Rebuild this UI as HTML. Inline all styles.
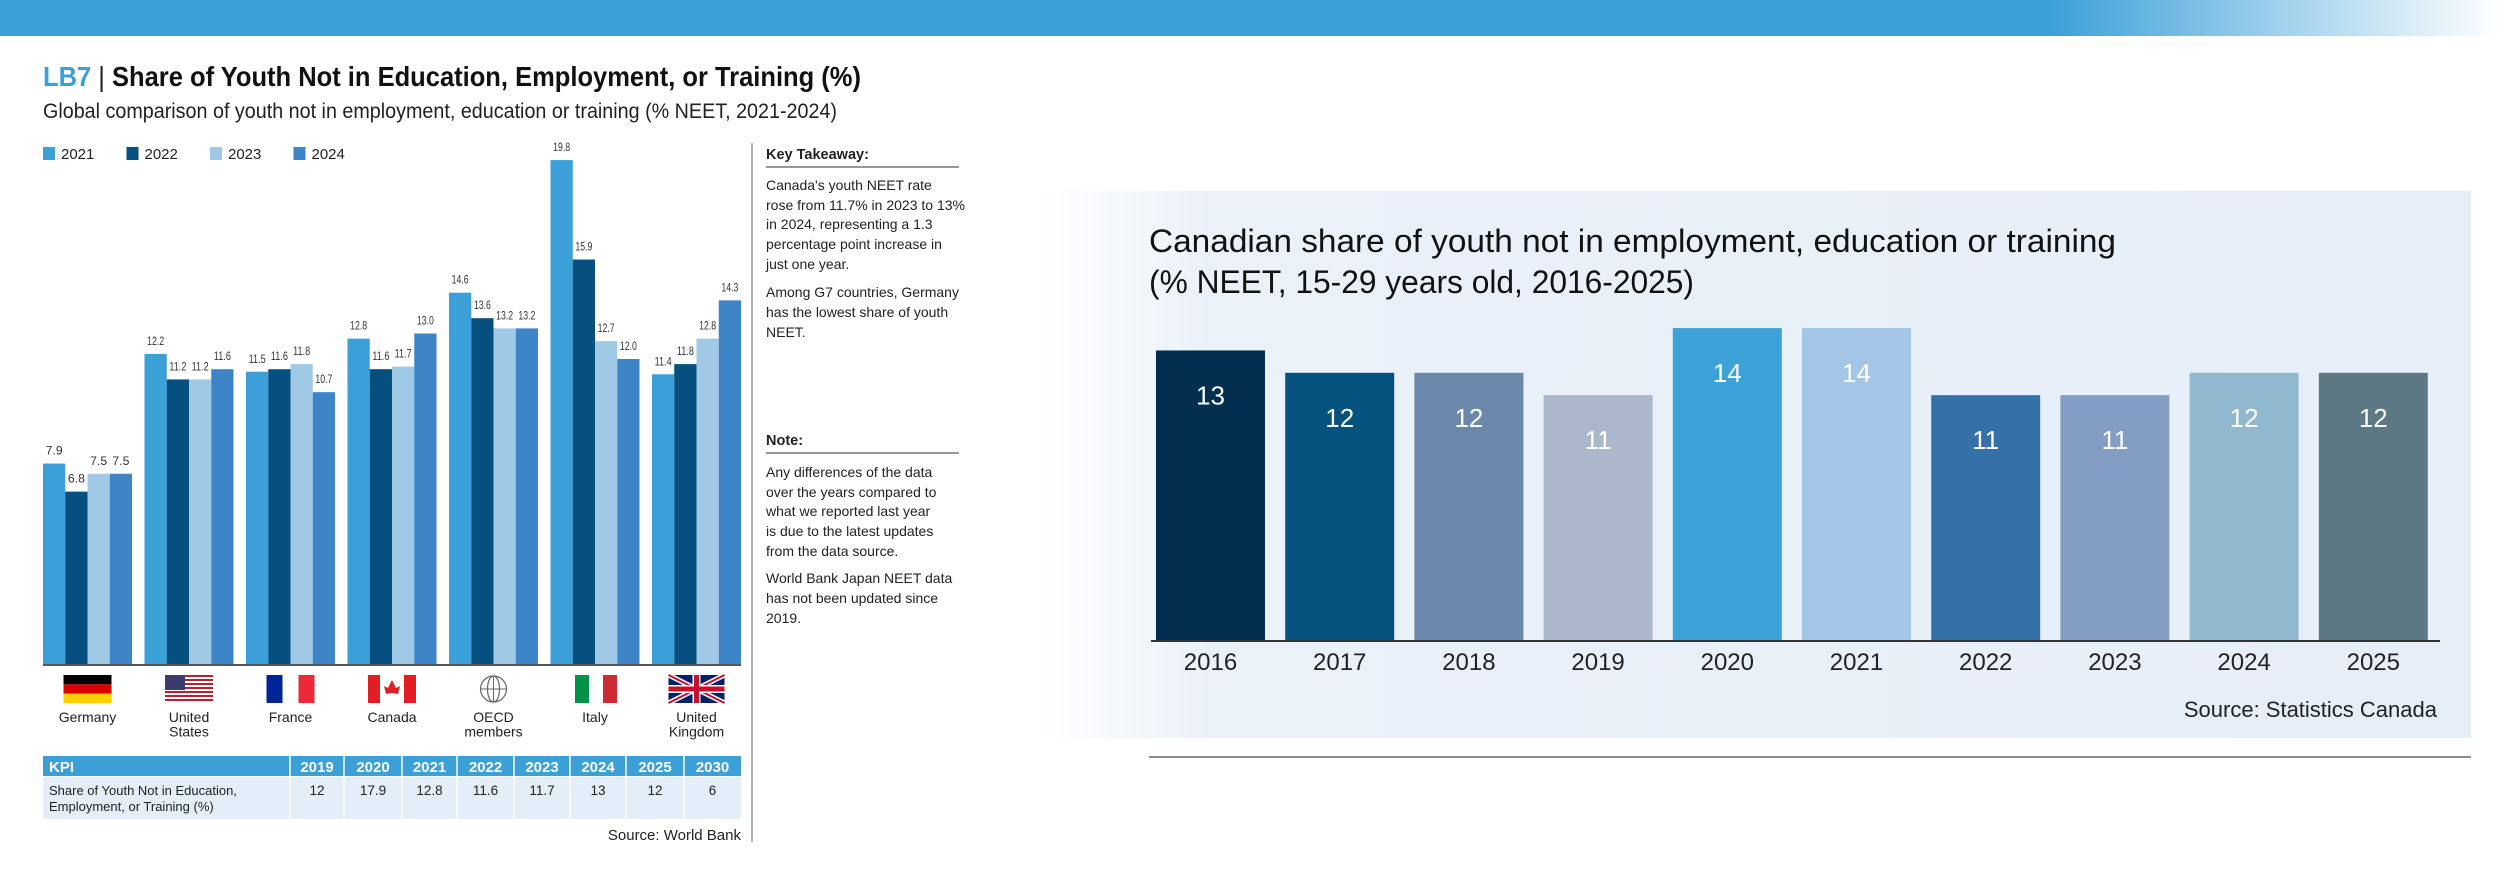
<!DOCTYPE html>
<html><head><meta charset="utf-8">
<style>
html,body{margin:0;padding:0;background:#fff;}
body{width:2500px;height:883px;overflow:hidden;font-family:"Liberation Sans",sans-serif;}
svg text{font-family:"Liberation Sans",sans-serif;}
</style></head>
<body>
<svg id="page" width="2500" height="883" viewBox="0 0 2500 883" xmlns="http://www.w3.org/2000/svg">
<defs>
<linearGradient id="topbar" x1="0" x2="1" y1="0" y2="0">
<stop offset="0" stop-color="#3ca0d8"/><stop offset="0.82" stop-color="#3ca0d8"/><stop offset="1" stop-color="#ffffff"/>
</linearGradient>
<linearGradient id="panelbg" x1="0" x2="1" y1="0" y2="0">
<stop offset="0" stop-color="#ffffff"/><stop offset="0.12" stop-color="#eaf1f9"/><stop offset="1" stop-color="#e6eef8"/>
</linearGradient>
</defs>
<rect x="0" y="0" width="2500" height="36" fill="url(#topbar)"/>

<g>
<text x="43" y="86" font-size="28" font-weight="bold" textLength="818" lengthAdjust="spacingAndGlyphs"><tspan fill="#3ca0d8">LB7</tspan><tspan fill="#222" font-weight="normal"> | </tspan><tspan fill="#111">Share of Youth Not in Education, Employment, or Training (%)</tspan></text>
<text x="43" y="118" font-size="21" fill="#222" textLength="794" lengthAdjust="spacingAndGlyphs">Global comparison of youth not in employment, education or training (% NEET, 2021-2024)</text>
<g id="legend"></g>
<g id="lbars"></g>
<g id="flags"></g>
<g id="kpi"></g>
<text x="741" y="840" font-size="15" fill="#222" text-anchor="end">Source: World Bank</text>
<line x1="752" y1="143" x2="752" y2="842" stroke="#999" stroke-width="1.5"/>
<g font-size="14" fill="#222">
<text x="766" y="159" font-weight="bold" font-size="14.5">Key Takeaway:</text>
<line x1="766" y1="167" x2="959" y2="167" stroke="#777" stroke-width="1.5"/>
<text x="766" y="190">Canada's youth NEET rate</text>
<text x="766" y="210">rose from 11.7% in 2023 to 13%</text>
<text x="766" y="229">in 2024, representing a 1.3</text>
<text x="766" y="249">percentage point increase in</text>
<text x="766" y="269">just one year.</text>
<text x="766" y="297">Among G7 countries, Germany</text>
<text x="766" y="317">has the lowest share of youth</text>
<text x="766" y="337">NEET.</text>
</g>
<g font-size="14" fill="#222">
<text x="766" y="445" font-weight="bold" font-size="14.5">Note:</text>
<line x1="766" y1="453" x2="959" y2="453" stroke="#777" stroke-width="1.5"/>
<text x="766" y="477">Any differences of the data</text>
<text x="766" y="497">over the years compared to</text>
<text x="766" y="516">what we reported last year</text>
<text x="766" y="536">is due to the latest updates</text>
<text x="766" y="556">from the data source.</text>
<text x="766" y="583">World Bank Japan NEET data</text>
<text x="766" y="603">has not been updated since</text>
<text x="766" y="623">2019.</text>
</g>
</g>

<g>
<rect x="1039" y="191" width="1432" height="547" fill="url(#panelbg)"/>
<text x="1149" y="252" font-size="32" fill="#111" textLength="967" lengthAdjust="spacingAndGlyphs">Canadian share of youth not in employment, education or training</text>
<text x="1149" y="293" font-size="32" fill="#111" textLength="545" lengthAdjust="spacingAndGlyphs">(% NEET, 15-29 years old, 2016-2025)</text>
<g id="rbars"></g>
<line x1="1151" y1="641" x2="2440" y2="641" stroke="#333" stroke-width="2"/>
<text x="2437" y="717" font-size="22" fill="#222" text-anchor="end">Source: Statistics Canada</text>
<line x1="1149" y1="757" x2="2471" y2="757" stroke="#666" stroke-width="1.5"/>
</g>
</svg>
<script>
const years = ["2021","2022","2023","2024"];
const countries = ["Germany","United States","France","Canada","OECD members","Italy","United Kingdom"];
const s2021 = [7.9,12.2,11.5,12.8,14.6,19.8,11.4];
const s2022 = [6.8,11.2,11.6,11.6,13.6,15.9,11.8];
const s2023 = [7.5,11.2,11.8,11.7,13.2,12.7,12.8];
const s2024 = [7.5,11.6,10.7,13.0,13.2,12.0,14.3];
const kpiYears = ["2019","2020","2021","2022","2023","2024","2025","2030"];
const kpiValues = ["12","17.9","12.8","11.6","11.7","13","12","6"];
const caYears = ["2016","2017","2018","2019","2020","2021","2022","2023","2024","2025"];
const caValues = [13,12,12,11,14,14,11,11,12,12];

const NS="http://www.w3.org/2000/svg";
function mk(tag,attrs,parent,txt){const e=document.createElementNS(NS,tag);for(const k in attrs)e.setAttribute(k,attrs[k]);if(txt!==undefined)e.textContent=txt;parent.appendChild(e);return e;}
const lcolors=["#3b9fd8","#05507f","#9fc9e5","#3d85c6"];
const series=[s2021,s2022,s2023,s2024];

const lg=document.getElementById('legend');
years.forEach((y,i)=>{
  const x=43+i*83.5;
  const r=mk('rect',{x:x,y:147,width:12,height:13,fill:lcolors[i]},lg);
  
  
  const t=mk('text',{x:x+18,y:159,'font-size':15,fill:'#222'},lg,y);
  
  
});

const base=665, unit=25.5, g0=43, gStep=101.5, bw=22.25;
function ly(v){return base-v*unit;}
function gx(ci,si){return g0+ci*gStep+si*bw;}
const lb=document.getElementById('lbars');
countries.forEach((c,ci)=>{
  series.forEach((s,si)=>{
    const v=s[ci];
    const r=mk('rect',{x:gx(ci,si),y:ly(v),width:bw,height:v*unit,fill:lcolors[si]},lb);
    
    
    const t=mk('text',{x:gx(ci,si)+bw/2,y:ly(v)-9,'font-size':11.5,fill:'#333','text-anchor':'middle',textLength:17,lengthAdjust:'spacingAndGlyphs'},lb,v.toFixed(1));
    
    
  });
});
const ax=mk('line',{x1:43,y1:base,x2:741,y2:base,stroke:'#555','stroke-width':2},lb);



const fl=document.getElementById('flags');
function flag(ci,cx){
  const x=cx-24,y=675,w=48,h=28;
  const g=mk('g',{},fl);
  
  
  if(ci===0){mk('rect',{x,y,width:w,height:h/3,fill:'#000'},g);mk('rect',{x,y:y+h/3,width:w,height:h/3,fill:'#dd0000'},g);mk('rect',{x,y:y+2*h/3,width:w,height:h/3,fill:'#ffce00'},g);}
  if(ci===1){for(let k=0;k<7;k++)mk('rect',{x,y:y+k*4,width:w,height:2,fill:'#b22234'},g);for(let k=0;k<7;k++)mk('rect',{x,y:y+k*4+2,width:w,height:2,fill:'#fff'},g);mk('rect',{x,y,width:20,height:15,fill:'#3c3b6e'},g);}
  if(ci===2){mk('rect',{x,y,width:w/3,height:h,fill:'#002395'},g);mk('rect',{x:x+w/3,y,width:w/3,height:h,fill:'#fff'},g);mk('rect',{x:x+2*w/3,y,width:w/3,height:h,fill:'#ed2939'},g);}
  if(ci===3){mk('rect',{x,y,width:12,height:h,fill:'#e01e24'},g);mk('rect',{x:x+36,y,width:12,height:h,fill:'#e01e24'},g);mk('path',{d:`M${cx} ${y+5} l4 8 l4 -2 l-2 8 l-6 -1 l-6 1 l-2 -8 l4 2 z`,fill:'#e01e24'},g);}
  if(ci===4){mk('circle',{cx,cy:y+14,r:13,fill:'none',stroke:'#666','stroke-width':1.2},g);mk('ellipse',{cx,cy:y+14,rx:6,ry:13,fill:'none',stroke:'#666','stroke-width':1.2},g);mk('line',{x1:cx-13,y1:y+14,x2:cx+13,y2:y+14,stroke:'#666'},g);mk('line',{x1:cx,y1:y+1,x2:cx,y2:y+27,stroke:'#666'},g);}
  if(ci===5){mk('rect',{x:x+4,y,width:14,height:h,fill:'#009246'},g);mk('rect',{x:x+18,y,width:14,height:h,fill:'#fff'},g);mk('rect',{x:x+32,y,width:14,height:h,fill:'#ce2b37'},g);}
  if(ci===6){mk('rect',{x:x-4,y,width:w+8,height:h,fill:'#012169'},g);mk('path',{d:`M${x-4} ${y} L${x+w+4} ${y+h} M${x+w+4} ${y} L${x-4} ${y+h}`,stroke:'#fff','stroke-width':5},g);mk('path',{d:`M${x-4} ${y} L${x+w+4} ${y+h} M${x+w+4} ${y} L${x-4} ${y+h}`,stroke:'#c8102e','stroke-width':2},g);mk('rect',{x:x-4,y:y+10,width:w+8,height:8,fill:'#fff'},g);mk('rect',{x:cx-4,y,width:8,height:h,fill:'#fff'},g);mk('rect',{x:x-4,y:y+11.5,width:w+8,height:5,fill:'#c8102e'},g);mk('rect',{x:cx-2.5,y,width:5,height:h,fill:'#c8102e'},g);}
}
countries.forEach((c,ci)=>{
  const cx=gx(ci,0)+2*bw;
  flag(ci,cx);
  const parts=c==="Germany"||c==="France"||c==="Canada"||c==="Italy"?[c]:c.split(' ');
  parts.forEach((p,pi)=>{
    const t=mk('text',{x:cx,y:722+pi*14.5,'font-size':14,fill:'#222','text-anchor':'middle'},fl,p);
    
    
  });
});

const kp=document.getElementById('kpi');
const colX=[290,344,402,457,514,570,626,684,741];
const hdr=mk('rect',{x:43,y:756,width:698,height:20,fill:'#3ca0d8'},kp);


mk('rect',{x:43,y:777,width:698,height:42,fill:'#e4eef8'},kp);
mk('text',{x:49,y:772,'font-size':15,'font-weight':'bold',fill:'#fff'},kp,'KPI');
mk('text',{x:49,y:795,'font-size':13,fill:'#222'},kp,'Share of Youth Not in Education,');
mk('text',{x:49,y:811,'font-size':13,fill:'#222'},kp,'Employment, or Training (%)');
kpiYears.forEach((y,i)=>{
  const cx=(colX[i]+colX[i+1])/2;
  mk('line',{x1:colX[i],y1:756,x2:colX[i],y2:819,stroke:'#fff','stroke-width':1.5},kp);
  const t=mk('text',{x:cx,y:772,'font-size':15,'font-weight':'bold',fill:'#fff','text-anchor':'middle'},kp,y);
  
  
  const v=mk('text',{x:cx,y:795,'font-size':13.5,fill:'#222','text-anchor':'middle'},kp,kpiValues[i]);
  
  
});

const rcolors=["#022f4f","#06527f","#6b87aa","#abb8cb","#3ca2d8","#a3c6e6","#3570a8","#849dc4","#90b9d0","#5d7885"];
const rb=document.getElementById('rbars');
const rBase=641, rUnit=22.35, rx0=1156, rStep=129.2, rbw=109;
caYears.forEach((y,i)=>{
  const v=caValues[i], x=rx0+i*rStep, top=rBase-v*rUnit;
  const r=mk('rect',{x:x,y:top,width:rbw,height:v*rUnit,fill:rcolors[i]},rb);
  
  
  const t=mk('text',{x:x+rbw/2,y:top+54,'font-size':26,fill:'#fff','text-anchor':'middle'},rb,String(v));
  
  
  const l=mk('text',{x:x+rbw/2,y:670,'font-size':24,fill:'#222','text-anchor':'middle'},rb,y);
  
  
});
</script>
</body></html>
